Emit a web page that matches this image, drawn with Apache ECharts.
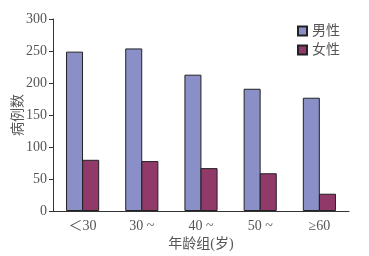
<!DOCTYPE html>
<html>
<head>
<meta charset="utf-8">
<script src="https://cdn.jsdelivr.net/npm/echarts@6/dist/echarts.min.js"></script>
<style>
  html, body { margin: 0; padding: 0; background: #fff; }
  #chart { width: 369px; height: 256px; }
</style>
</head>
<body>
<div id="chart"></div>
<script>
const categories = ["＜30", "30 ~", "40 ~", "50 ~", "≥60"]
const male = [249, 254, 213, 191, 177]
const female = [80, 78, 67, 59, 27]
const yTicks = [0, 50, 100, 150, 200, 250, 300]

const font = "'Liberation Serif', 'Noto Sans CJK SC', serif"
const chart = echarts.init(document.getElementById("chart"))
const option = {
  animation: false,
  textStyle: { fontFamily: font },
  grid: { left: 53, right: 20, top: 19, bottom: 45, outerBoundsMode: "none" },
  legend: {
    orient: "vertical",
    left: 292,
    top: 19,
    icon: "rect",
    itemWidth: 9,
    itemHeight: 9,
    itemGap: 5,
    textStyle: { fontSize: 14, color: "#555", fontFamily: font },
    data: ["男性", "女性"]
  },
  xAxis: {
    type: "category",
    data: categories,
    name: "年龄组(岁)",
    nameLocation: "middle",
    nameGap: 26,
    nameMoveOverlap: false,
    nameTextStyle: { fontSize: 14, color: "#555", fontFamily: font },
    axisLine: { lineStyle: { color: "#333", width: 1 } },
    axisTick: { inside: true, length: 5, lineStyle: { color: "#333" } },
    axisLabel: { fontSize: 14, color: "#555", margin: 8, fontFamily: font }
  },
  yAxis: {
    type: "value",
    min: yTicks[0],
    max: yTicks[yTicks.length - 1],
    interval: 50,
    name: "病例数",
    nameLocation: "middle",
    nameGap: 28,
    nameRotate: 90,
    nameMoveOverlap: false,
    nameTextStyle: { fontSize: 14, color: "#555", fontFamily: font },
    splitLine: { show: false },
    axisLine: { show: true, lineStyle: { color: "#333", width: 1 } },
    axisTick: { show: true, length: 4, lineStyle: { color: "#333" } },
    axisLabel: { fontSize: 14, color: "#555", margin: 6, fontFamily: font }
  },
  series: [
    {
      name: "男性",
      type: "bar",
      data: male,
      barWidth: 17,
      barGap: "-5%",
      itemStyle: { color: "#8a8fc8", borderColor: "#222", borderWidth: 1 }
    },
    {
      name: "女性",
      type: "bar",
      data: female,
      barWidth: 17,
      barGap: "-5%",
      itemStyle: { color: "#913a6a", borderColor: "#222", borderWidth: 1 }
    }
  ]
}
chart.setOption(option)
</script>
</body>
</html>
